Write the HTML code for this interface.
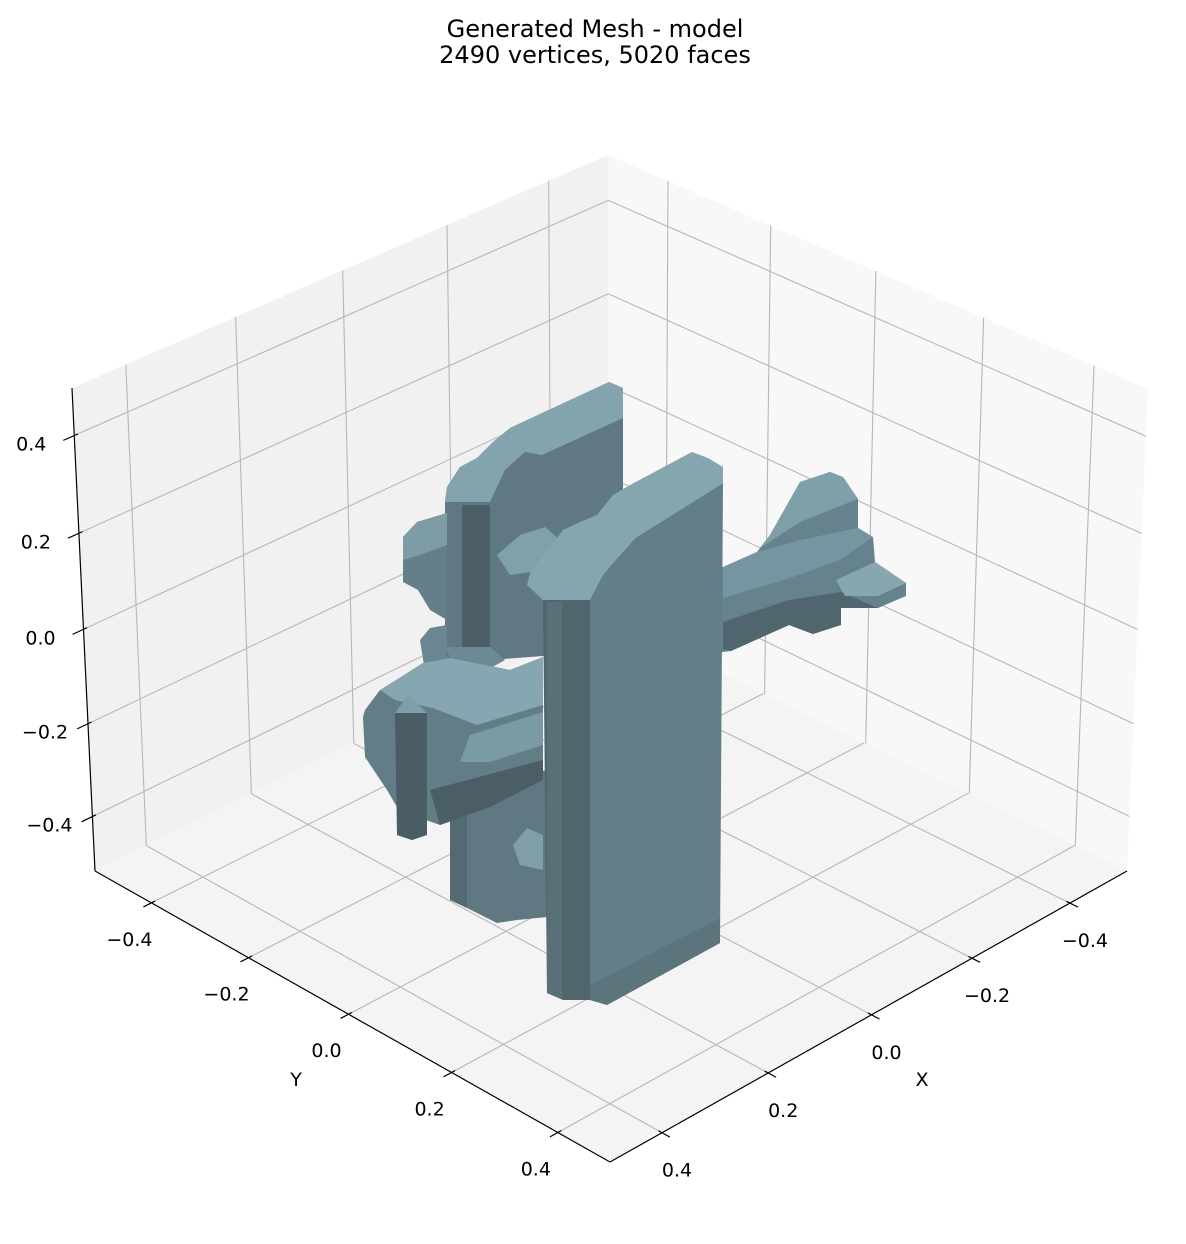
<!DOCTYPE html>
<html>
<head>
<meta charset="utf-8">
<style>
  html,body{margin:0;padding:0;background:#fff;}
  svg{display:block;}
  text{font-family:"DejaVu Sans","Liberation Sans",sans-serif;fill:#000;}
</style>
</head>
<body>
<svg id="chart" width="1186" height="1244" viewBox="0 0 1186 1244" xmlns="http://www.w3.org/2000/svg">
  <rect x="0" y="0" width="1186" height="1244" fill="#ffffff"/>
  <g id="title">
    <text x="595" y="37" font-size="24" text-anchor="middle">Generated Mesh - model</text>
    <text x="595" y="63" font-size="24" text-anchor="middle">2490 vertices, 5020 faces</text>
  </g>
  <g id="panes"></g>
  <g id="grid"></g>
  <g id="axes"></g>
  <g id="mesh">
    <polygon fill="#66838d" points="700,570 723,567 757,552 770,535 800,482 830,472 843,477 858,499 858,528 873,537 875,562 906,583 906,596 878,608 841,608 841,625 813,634 789,625 731,651 700,655"/>
    <polygon fill="#7f9fa9" points="770,535 800,482 830,472 843,477 858,499 830,510 800,522 760,548"/>
    <polygon fill="#7596a0" points="723,567 757,552 800,540 858,528 873,537 840,560 790,578 723,598"/>
    <polygon fill="#50656d" points="723,622 789,600 841,592 878,608 841,608 841,625 813,634 789,625 731,651 723,649"/>
    <polygon fill="#86a6b0" points="836,580 875,562 906,583 878,596 845,596"/>
    <polygon fill="#5f7881" points="445,502 447,487 460,467 477,458 493,442 510,428 609,382 623,388 623,650 490,660 445,660"/>
    <polygon fill="#83a3ad" points="445,502 447,487 460,467 477,458 493,442 510,428 609,382 623,388 623,418 542,455 525,452 505,470 490,502"/>
    <polygon fill="#4c5f67" points="462,505 490,505 490,647 462,647"/>
    <polygon fill="#6d8a94" points="445,647 490,647 505,660 480,674 455,668"/>
    <polygon fill="#647f89" points="403,537 417,522 447,513 447,620 430,610 418,590 403,582"/>
    <polygon fill="#7d9ca6" points="403,537 417,522 447,513 447,545 420,555 403,560"/>
    <polygon fill="#6a8791" points="420,640 430,628 447,625 447,672 425,672"/>
    <polygon fill="#80a0aa" points="497,555 520,535 545,527 560,540 545,570 510,575"/>
    <polygon fill="#5f7881" points="450,790 547,770 547,917 517,920 497,923 467,908 450,900"/>
    <polygon fill="#536a72" points="450,792 467,790 467,908 450,900"/>
    <polygon fill="#7f9ea8" points="513,845 527,828 543,835 543,870 520,865"/>
    <polygon fill="#637d87" points="363,717 365,710 380,690 393,682 423,663 450,658 510,670 543,657 543,780 490,807 440,825 426,820 426,835 412,840 397,835 397,807 387,790 365,757"/>
    <polygon fill="#86a7b1" points="380,690 393,682 423,663 450,658 510,670 543,657 543,705 477,725 433,708 395,700"/>
    <polygon fill="#7a9aa4" points="470,735 543,712 543,745 490,762 460,762"/>
    <polygon fill="#4b5e66" points="430,790 543,760 543,780 490,807 440,825"/>
    <polygon fill="#4a5c64" points="395,713 427,713 427,835 412,840 397,835"/>
    <polygon fill="#7f9ea8" points="395,713 408,695 427,713"/>
    <polygon fill="#627f89" points="590,600 603,575 635,538 723,483 720,943 607,1005 590,1000"/>
    <polygon fill="#51656d" points="543,600 590,600 590,1000 563,1000 547,993"/>
    <polygon fill="#5a7078" points="547,602 562,602 562,999 547,993"/>
    <polygon fill="#85a5af" points="527,585 530,573 563,530 580,522 597,515 613,495 630,485 692,452 708,458 723,467 723,483 635,538 603,575 590,600 543,600"/>
    <polygon fill="#5c747c" points="590,985 720,918 720,943 607,1005 590,1000"/>
  </g>
  <g id="labels"></g>
</svg>
<script>
const xTickValues = [-0.4, -0.2, 0.0, 0.2, 0.4];
const yTickValues = [-0.4, -0.2, 0.0, 0.2, 0.4];
const zTickValues = [-0.4, -0.2, 0.0, 0.2, 0.4];
const xTickLabels = ["\u22120.4", "\u22120.2", "0.0", "0.2", "0.4"];
const yTickLabels = ["\u22120.4", "\u22120.2", "0.0", "0.2", "0.4"];
const zTickLabels = ["\u22120.4", "\u22120.2", "0.0", "0.2", "0.4"];
const axisLimits = [-0.519, 0.496];

const NS = "http://www.w3.org/2000/svg";
const CB = [608, 618], CL = [95, 871], CF = [610, 1162], CR = [1127, 871];
const CT = [608, 155], CLT = [72, 388], CRT = [1148, 389];

function homography(p0, p1, p2, p3) {
  const [x0,y0]=p0,[x1,y1]=p1,[x2,y2]=p2,[x3,y3]=p3;
  const sx=x0-x1+x2-x3, sy=y0-y1+y2-y3;
  let a,b,c,d,e,f,g=0,h=0;
  if (Math.abs(sx)<1e-9 && Math.abs(sy)<1e-9) {
    a=x1-x0;b=x3-x0;c=x0;d=y1-y0;e=y3-y0;f=y0;
  } else {
    const dx1=x1-x2,dx2=x3-x2,dy1=y1-y2,dy2=y3-y2;
    const den=dx1*dy2-dx2*dy1;
    g=(sx*dy2-dx2*sy)/den; h=(dx1*sy-sx*dy1)/den;
    a=x1-x0+g*x1;b=x3-x0+h*x3;c=x0;d=y1-y0+g*y1;e=y3-y0+h*y3;f=y0;
  }
  return (u,v)=>{const w=g*u+h*v+1;return [(a*u+b*v+c)/w,(d*u+e*v+f)/w];};
}
const floorMap = homography(CB, CL, CF, CR);
const leftMap  = homography(CB, CL, CLT, CT);
const rightMap = homography(CB, CR, CRT, CT);
function norm(v){return (v-axisLimits[0])/(axisLimits[1]-axisLimits[0]);}

const panes = document.getElementById('panes');
const grid = document.getElementById('grid');
const axes = document.getElementById('axes');
const labels = document.getElementById('labels');

function poly(parent, pts, fill, name) {
  const p = document.createElementNS(NS, 'polygon');
  p.setAttribute('points', pts.map(q=>q.join(',')).join(' '));
  p.setAttribute('fill', fill);
  
  
  parent.appendChild(p);
}
function line(parent, a, b, stroke, w, name) {
  const l = document.createElementNS(NS, 'line');
  l.setAttribute('x1', a[0]); l.setAttribute('y1', a[1]);
  l.setAttribute('x2', b[0]); l.setAttribute('y2', b[1]);
  l.setAttribute('stroke', stroke); l.setAttribute('stroke-width', w);
  
  
  parent.appendChild(l);
  return l;
}
function label(parent, p, str, name) {
  const t = document.createElementNS(NS, 'text');
  t.setAttribute('x', p[0]); t.setAttribute('y', p[1]);
  t.setAttribute('font-size', '19');
  t.setAttribute('text-anchor', 'middle');
  t.setAttribute('dominant-baseline', 'central');
  t.textContent = str;
  
  
  parent.appendChild(t);
}

poly(panes, [CB, CL, CLT, CT], '#f1f1f1', 'left-pane');
poly(panes, [CB, CR, CRT, CT], '#f8f8f8', 'right-pane');
poly(panes, [CB, CL, CF, CR], '#f4f4f4', 'floor-pane');

const GC = '#b7b7b7';
xTickValues.forEach((v,i)=>{const s=norm(v);line(grid, floorMap(s,0), floorMap(s,1), GC, 1.1, 'floor-grid-x-'+i);});
yTickValues.forEach((v,i)=>{const u=norm(v);line(grid, floorMap(0,u), floorMap(1,u), GC, 1.1, 'floor-grid-y-'+i);});
xTickValues.forEach((v,i)=>{const s=norm(v);line(grid, leftMap(s,0), leftMap(s,1), GC, 1.1, 'left-grid-x-'+i);});
zTickValues.forEach((v,i)=>{const w=norm(v);line(grid, leftMap(0,w), leftMap(1,w), GC, 1.1, 'left-grid-z-'+i);});
yTickValues.forEach((v,i)=>{const u=norm(v);line(grid, rightMap(u,0), rightMap(u,1), GC, 1.1, 'right-grid-y-'+i);});
zTickValues.forEach((v,i)=>{const w=norm(v);line(grid, rightMap(0,w), rightMap(1,w), GC, 1.1, 'right-grid-z-'+i);});

line(axes, CL, CF, '#000', 1.2, 'y-axis-line');
line(axes, CF, CR, '#000', 1.2, 'x-axis-line');
line(axes, CL, CLT, '#000', 1.2, 'z-axis-line');

function unit(a,b){const dx=b[0]-a[0],dy=b[1]-a[1],n=Math.hypot(dx,dy);return [dx/n,dy/n];}
yTickValues.forEach((v,i)=>{
  const u=norm(v), p=floorMap(1,u), d=unit(p, floorMap(1.2,u));
  line(axes,[p[0]-4*d[0],p[1]-4*d[1]],[p[0]+9*d[0],p[1]+9*d[1]],'#000',1.2,'y-tick-'+i);
  label(labels,[p[0]-22,p[1]+37], yTickLabels[i], 'y-tick-label-'+i);
});
xTickValues.forEach((v,i)=>{
  const s=norm(v), p=floorMap(s,1), d=unit(p, floorMap(s,1.2));
  line(axes,[p[0]-4*d[0],p[1]-4*d[1]],[p[0]+9*d[0],p[1]+9*d[1]],'#000',1.2,'x-tick-'+i);
  label(labels,[p[0]+15,p[1]+38], xTickLabels[i], 'x-tick-label-'+i);
});
zTickValues.forEach((v,i)=>{
  const w=norm(v), p=leftMap(1,w), d=unit(p, leftMap(1.2,w));
  line(axes,[p[0]-4*d[0],p[1]-4*d[1]],[p[0]+12*d[0],p[1]+12*d[1]],'#000',1.2,'z-tick-'+i);
  label(labels,[p[0]-43,p[1]+9], zTickLabels[i], 'z-tick-label-'+i);
});

const yt = document.createElementNS(NS,'text');
yt.setAttribute('x',296);yt.setAttribute('y',1080);yt.setAttribute('font-size','19');
yt.setAttribute('text-anchor','middle');yt.setAttribute('dominant-baseline','central');
yt.textContent='Y';


labels.appendChild(yt);
const xt = document.createElementNS(NS,'text');
xt.setAttribute('x',922);xt.setAttribute('y',1080);xt.setAttribute('font-size','19');
xt.setAttribute('text-anchor','middle');xt.setAttribute('dominant-baseline','central');
xt.textContent='X';


labels.appendChild(xt);
const zt = document.createElementNS(NS,'text');
zt.setAttribute('x',-6);zt.setAttribute('y',642);zt.setAttribute('font-size','19');
zt.setAttribute('text-anchor','middle');zt.setAttribute('dominant-baseline','central');
zt.textContent='Z';


labels.appendChild(zt);
</script>
</body>
</html>
